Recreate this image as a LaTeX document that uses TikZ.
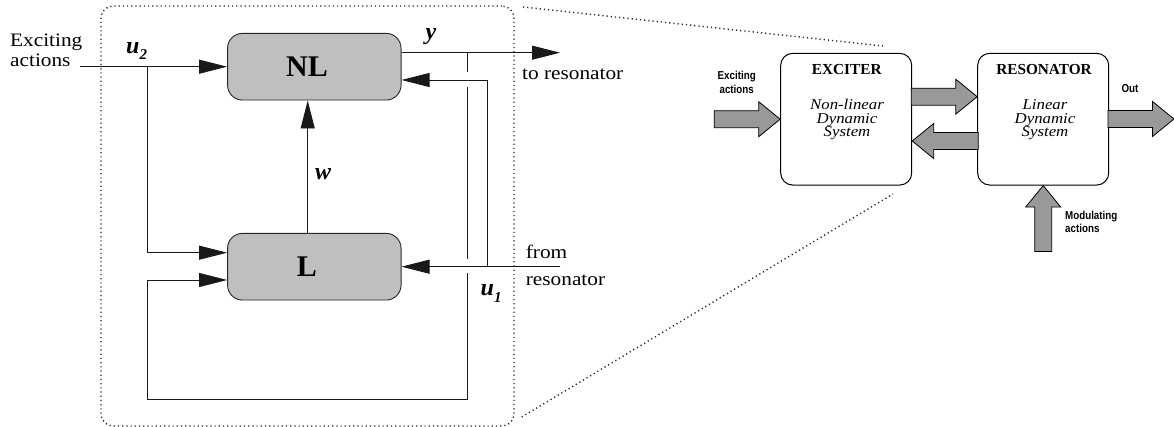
\documentclass[tikz,border=0pt]{standalone}
\usepackage{fontspec}
\setmainfont{Liberation Serif}
\newfontfamily\widerm[FakeStretch=1.12]{Liberation Serif}
\newfontfamily\narrowsf[FakeStretch=0.85]{Liberation Sans}
\usetikzlibrary{arrows.meta,calc}

% subscript of the signal labels
\newcommand{\lsub}[1]{\raisebox{-6.5pt}{\fontsize{15}{15}\selectfont #1}}
% fat grey arrow: tip point, direction angle
\newcommand{\fatarrow}[2]{%
  \draw[fat, shift={#1}, rotate=#2]
    (0,0) -- (-21.5,17.5) -- (-21.5,8.5) -- (-66,8.5) -- (-66,-8.5)
    -- (-21.5,-8.5) -- (-21.5,-17.5) -- cycle;}

\begin{document}
\begin{tikzpicture}[x=1pt,y=-1pt,
  wire/.style={line width=0.9pt, draw=black!90},
  sig/.style={wire, -{Triangle[length=28pt,width=14pt]}},
  blk/.style={draw=black!85, line width=0.9pt, fill=black!25, rounded corners=15pt,
    minimum width=173.5pt, minimum height=66.7pt, inner sep=0pt},
  blktxt/.style={font=\fontsize{30}{30}\selectfont\bfseries, inner sep=0pt},
  lbl/.style={font=\fontsize{24}{24}\selectfont\bfseries\itshape, inner sep=0pt, anchor=base west},
  txt/.style={font=\widerm\fontsize{19}{20}\selectfont, inner sep=0pt, anchor=base west},
  dots/.style={line width=1.4pt, dash pattern=on 1.2pt off 3pt, draw=black!85},
  sysbox/.style={draw, line width=1pt, fill=white, rounded corners=12pt,
    minimum width=131pt, minimum height=131.7pt, inner sep=0pt},
  systitle/.style={font=\fontsize{15.3}{16}\selectfont\bfseries, inner sep=0pt},
  sysdesc/.style={font=\widerm\fontsize{15}{13.5}\selectfont\itshape, align=center, inner sep=0pt},
  small/.style={font=\narrowsf\fontsize{11.5}{12}\selectfont\bfseries, inner sep=0pt},
  fat/.style={draw, line width=0.8pt, fill=black!40, line join=miter}
]
\useasboundingbox (0,0) rectangle (1174,427);

% ---------------- exciter detail ----------------
\node[dots, draw, rounded corners=12pt, minimum width=413pt, minimum height=420pt,
  inner sep=0pt] (frame) at (307.5,216) {};

\node[blk] (NL) at (314.3,66.7) {};
\node[blk] (L)  at (314.3,266.7) {};
\node[blktxt] (NLt) at (307,66.7) {NL};
\node[blktxt] (Lt)  at (307,266.7) {L};

% free ends and junctions
\coordinate (ein)  at (80,66.7);
\coordinate (j2)   at (147.7,66.7);
\coordinate (yout) at (560,52.7);
\coordinate (jy)   at (467.7,52.7);
\coordinate (rin)  at (560,266.7);
\coordinate (jr)   at (487.3,266.7);
\coordinate (fb)   at (487.3,80);
\coordinate (lbot) at (147.7,399.7);

% outer loop: y back to L, hopping over the two crossings
\draw[wire] (jy) -- (467.7,399.7) -- (lbot);
\draw[white, line width=3pt] (467.7,72.3) -- (467.7,87.3);
\draw[white, line width=3pt] (467.7,259.2) -- (467.7,273.2);
\draw[sig] (lbot) |- ($(L.west)+(0,13.3)$);

\draw[sig] (ein) -- (NL.west);
\draw[sig] (j2) |- ($(L.west)+(0,-14)$);
\draw[sig] ($(L.north)+(-6.6,0)$) -- ($(NL.south)+(-6.6,0)$);
\draw[sig] ($(NL.east)+(0,-14)$) -- (yout);
\draw[sig] (jr) -- (fb) -- ($(NL.east)+(0,13.3)$);
\draw[sig] (rin) -- (L.east);

\node[txt] (exc1) at (10,46.7) {Exciting};
\node[txt] (exc2) at (10,66.7) {actions};
\node[txt] (tores) at (522,80) {to resonator};
\node[txt] (from1) at (525.7,258.5) {from};
\node[txt] (from2) at (525.7,285.5) {resonator};

\node[lbl] (u2lbl) at (126,53.3) {u\lsub{2}};
\node[lbl] (ylbl)  at (425.5,40) {y};
\node[lbl] (wlbl)  at (315,179.3) {w};
\node[lbl] (u1lbl) at (480.5,296) {u\lsub{1}};

% zoom lines towards the exciter block
\coordinate (zt0) at (523,7);
\coordinate (zt1) at (883,46);
\coordinate (zb0) at (521.7,417);
\coordinate (zb1) at (893,194);
\draw[dots] (zt0) -- (zt1);
\draw[dots] (zb0) -- (zb1);

% ---------------- exciter / resonator overview ----------------
\node[sysbox] (EX)  at (846.2,119.2) {};
\node[sysbox] (RES) at (1043.2,119.2) {};

\node[systitle] (EXt) at (846.7,70) {EXCITER};
\node[sysdesc] (EXd) at (847,119.7) {Non-linear\\Dynamic\\System};
\node[systitle] (RESt) at (1044,70) {RESONATOR};
\node[sysdesc] (RESd) at (1045,119.7) {Linear\\Dynamic\\System};

\coordinate (outtip) at (1174,119);
\fatarrow{(EX.west)}{0}
\fatarrow{($(RES.west)+(0,-22.5)$)}{0}
\fatarrow{($(EX.east)+(0,21.8)$)}{180}
\fatarrow{(outtip)}{0}
\fatarrow{(RES.south)}{90}

\node[small, anchor=base] (ea1) at (736.7,80) {Exciting};
\node[small, anchor=base] (ea2) at (736.7,93.3) {actions};
\node[small, anchor=base] (outl) at (1130,92.7) {Out};
\node[small, anchor=base west] (ma1) at (1065,220) {Modulating};
\node[small, anchor=base west] (ma2) at (1065,232.7) {actions};
\end{tikzpicture}
\end{document}
